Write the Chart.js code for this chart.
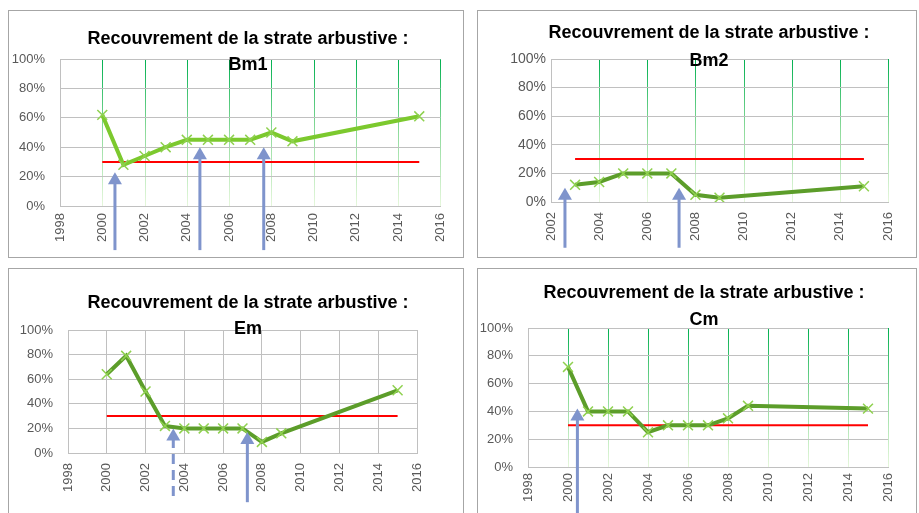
<!DOCTYPE html>
<html lang="fr">
<head>
<meta charset="utf-8">
<title>Recouvrement de la strate arbustive</title>
<script src="https://cdn.jsdelivr.net/npm/chart.js@4.4.1/dist/chart.umd.min.js"></script>
<style>
  body { margin: 0; background: #fff; width: 919px; height: 513px; overflow: hidden; position: relative; }
  .panel { position: absolute; border: 1px solid #a6a6a6; background: #fff; }
  .panel canvas { position: absolute; left: 0; top: 0; }
</style>
</head>
<body>
<div class="panel" style="left:8px;top:10px;width:454px;height:246px"><canvas id="c_bm1" width="454" height="246"></canvas></div>
<div class="panel" style="left:477px;top:10px;width:438px;height:246px"><canvas id="c_bm2" width="438" height="246"></canvas></div>
<div class="panel" style="left:8px;top:268px;width:454px;height:250px"><canvas id="c_em" width="454" height="250"></canvas></div>
<div class="panel" style="left:477px;top:268px;width:438px;height:250px"><canvas id="c_cm" width="438" height="250"></canvas></div>
<script>
// --- relevés de recouvrement (%) par station ---
const yearsBm1 = [2000, 2001, 2002, 2003, 2004, 2005, 2006, 2007, 2008, 2009, 2015];
const coverBm1 = [62, 28, 34, 40, 45, 45, 45, 45, 50, 44, 61];

const yearsBm2 = [2003, 2004, 2005, 2006, 2007, 2008, 2009, 2015];
const coverBm2 = [12, 14, 20, 20, 20, 5, 3, 11];

const yearsEm = [2000, 2001, 2002, 2003, 2004, 2005, 2006, 2007, 2008, 2009, 2015];
const coverEm = [64, 79, 50, 22, 20, 20, 20, 20, 9, 16, 51];

const yearsCm = [2000, 2001, 2002, 2003, 2004, 2005, 2006, 2007, 2008, 2009, 2015];
const coverCm = [72, 40, 40, 40, 25, 30, 30, 30, 35, 44, 42];

// seuil de 30 % (trait rouge)
const SEUIL = 30;

// flèches : année pointée, pied et pointe en %
const arrowsBm1 = [{ year: 2000.6, from: -30, to: 23 }, { year: 2004.62, from: -30, to: 40 }, { year: 2007.64, from: -30, to: 40 }];
const arrowsBm2 = [{ year: 2002.58, from: -32, to: 10 }, { year: 2007.32, from: -32, to: 10 }];
const arrowsEm = [{ year: 2003.43, from: -35, to: 20, dashed: true }, { year: 2007.25, from: -40, to: 17 }];
const arrowsCm = [{ year: 2000.47, from: -35, to: 42 }];

const TICK_FONT = { family: '"Liberation Sans", Arial, sans-serif', size: 13 };
const TICK_COLOR = '#595959';
const GRID_GRAY = '#c0c0c0';

// green vertical gridlines, fading from the top of the plot to almost white
const greenGridPlugin = {
  id: 'greenGrid',
  beforeDraw(chart, args, opts) {
    if (!opts.enabled) return;
    const { ctx, chartArea: a, scales: { x } } = chart;
    const g = ctx.createLinearGradient(0, a.top, 0, a.bottom);
    g.addColorStop(0, '#00b050');
    g.addColorStop(0.5, '#8fdb9c');
    g.addColorStop(1, '#e6f7dc');
    ctx.save();
    ctx.strokeStyle = g;
    ctx.lineWidth = 1;
    x.ticks.forEach((t, i) => {
      if (i === 0) return; // left edge is the y axis line
      const px = Math.round(x.getPixelForTick(i)) + 0.5;
      ctx.beginPath();
      ctx.moveTo(px, a.top);
      ctx.lineTo(px, a.bottom);
      ctx.stroke();
    });
    ctx.restore();
  }
};

const titlePlugin = {
  id: 'panelTitle',
  afterDraw(chart, args, opts) {
    const ctx = chart.ctx;
    ctx.save();
    ctx.font = 'bold 18px "Liberation Sans", Arial, sans-serif';
    ctx.fillStyle = '#000';
    ctx.textAlign = 'center';
    ctx.textBaseline = 'middle';
    opts.lines.forEach((t, i) => ctx.fillText(t, opts.x, opts.y[i]));
    ctx.restore();
  }
};

const arrowPlugin = {
  id: 'arrows',
  afterDraw(chart, args, opts) {
    const { ctx, scales: { x, y } } = chart;
    ctx.save();
    ctx.strokeStyle = '#7f94cc';
    ctx.fillStyle = '#7f94cc';
    ctx.lineWidth = 3;
    (opts.list || []).forEach(a => {
      const px = x.getPixelForValue(a.year);
      const y0 = y.getPixelForValue(a.from);
      const tip = y.getPixelForValue(a.to);
      const head = 12, half = 7;
      ctx.setLineDash(a.dashed ? [10, 6] : []);
      ctx.beginPath();
      ctx.moveTo(px, y0);
      ctx.lineTo(px, tip + head - 1);
      ctx.stroke();
      ctx.setLineDash([]);
      ctx.beginPath();
      ctx.moveTo(px, tip);
      ctx.lineTo(px + half, tip + head);
      ctx.lineTo(px - half, tip + head);
      ctx.closePath();
      ctx.fill();
    });
    ctx.restore();
  }
};

function draw_panel(id, p) {
  const canvas = document.getElementById(id);
  const W = canvas.width, H = canvas.height;
  new Chart(canvas, {
    type: 'line',
    data: {
      datasets: [
        {
          data: p.years.map((yr, i) => ({ x: yr, y: p.cover[i] })),
          borderColor: p.lineColor,
          borderWidth: 4,
          pointStyle: 'crossRot',
          pointRadius: 7,
          pointBorderColor: '#8fd14f',
          pointBackgroundColor: '#8fd14f',
          pointBorderWidth: 1.5,
          tension: 0
        },
        {
          data: [{ x: p.seuil[0], y: SEUIL }, { x: p.seuil[1], y: SEUIL }],
          borderColor: '#ff0000',
          borderWidth: 2,
          pointRadius: 0,
          tension: 0
        }
      ]
    },
    options: {
      responsive: false,
      animation: false,
      devicePixelRatio: 1,
      layout: { padding: { left: 0, top: p.area.top, right: W - p.area.right, bottom: 0 } },
      scales: {
        x: {
          type: 'linear',
          min: p.xMin,
          max: 2016,
          afterFit: s => { s.height = H - p.area.bottom; },
          ticks: {
            stepSize: 2,
            minRotation: 90,
            maxRotation: 90,
            padding: p.xPad,
            font: TICK_FONT,
            color: TICK_COLOR,
            callback: v => String(v)
          },
          grid: { display: !p.greenGrid, color: GRID_GRAY, drawTicks: false },
          border: { display: true, color: GRID_GRAY }
        },
        y: {
          min: 0,
          max: 100,
          afterFit: s => { s.width = p.area.left; },
          ticks: {
            stepSize: 20,
            padding: p.yPad,
            font: { family: TICK_FONT.family, size: p.yFont || 13 },
            color: TICK_COLOR,
            callback: v => v + '%'
          },
          grid: { color: GRID_GRAY, drawTicks: false },
          border: { color: GRID_GRAY }
        }
      },
      plugins: {
        legend: { display: false },
        tooltip: { enabled: false },
        greenGrid: { enabled: p.greenGrid },
        panelTitle: { lines: ['Recouvrement de la strate arbustive :', p.name], x: p.titleX, y: p.titleY },
        arrows: { list: p.arrows }
      }
    },
    plugins: [greenGridPlugin, titlePlugin, arrowPlugin]
  });
}

draw_panel('c_bm1', {
  name: 'Bm1', years: yearsBm1, cover: coverBm1, seuil: [2000, 2015], arrows: arrowsBm1,
  xMin: 1998, lineColor: '#7cc92e', greenGrid: true,
  area: { left: 51, right: 445, top: 48, bottom: 195 }, xPad: 7, yPad: 15,
  titleX: 239, titleY: [28, 54]
});

draw_panel('c_bm2', {
  name: 'Bm2', years: yearsBm2, cover: coverBm2, seuil: [2003, 2015], arrows: arrowsBm2,
  xMin: 2002, lineColor: '#5c9d2a', greenGrid: true,
  area: { left: 73, right: 410, top: 48, bottom: 191 }, xPad: 10, yPad: 5, yFont: 14,
  titleX: 231, titleY: [22, 50]
});

draw_panel('c_em', {
  name: 'Em', years: yearsEm, cover: coverEm, seuil: [2000, 2015], arrows: arrowsEm,
  xMin: 1998, lineColor: '#5c9d2a', greenGrid: false,
  area: { left: 59, right: 408, top: 61, bottom: 184 }, xPad: 10, yPad: 15,
  titleX: 239, titleY: [34, 60]
});

draw_panel('c_cm', {
  name: 'Cm', years: yearsCm, cover: coverCm, seuil: [2000, 2015], arrows: arrowsCm,
  xMin: 1998, lineColor: '#5c9d2a', greenGrid: true,
  area: { left: 50, right: 410, top: 59, bottom: 198 }, xPad: 6, yPad: 15,
  titleX: 226, titleY: [24, 51]
});
</script>
</body>
</html>
